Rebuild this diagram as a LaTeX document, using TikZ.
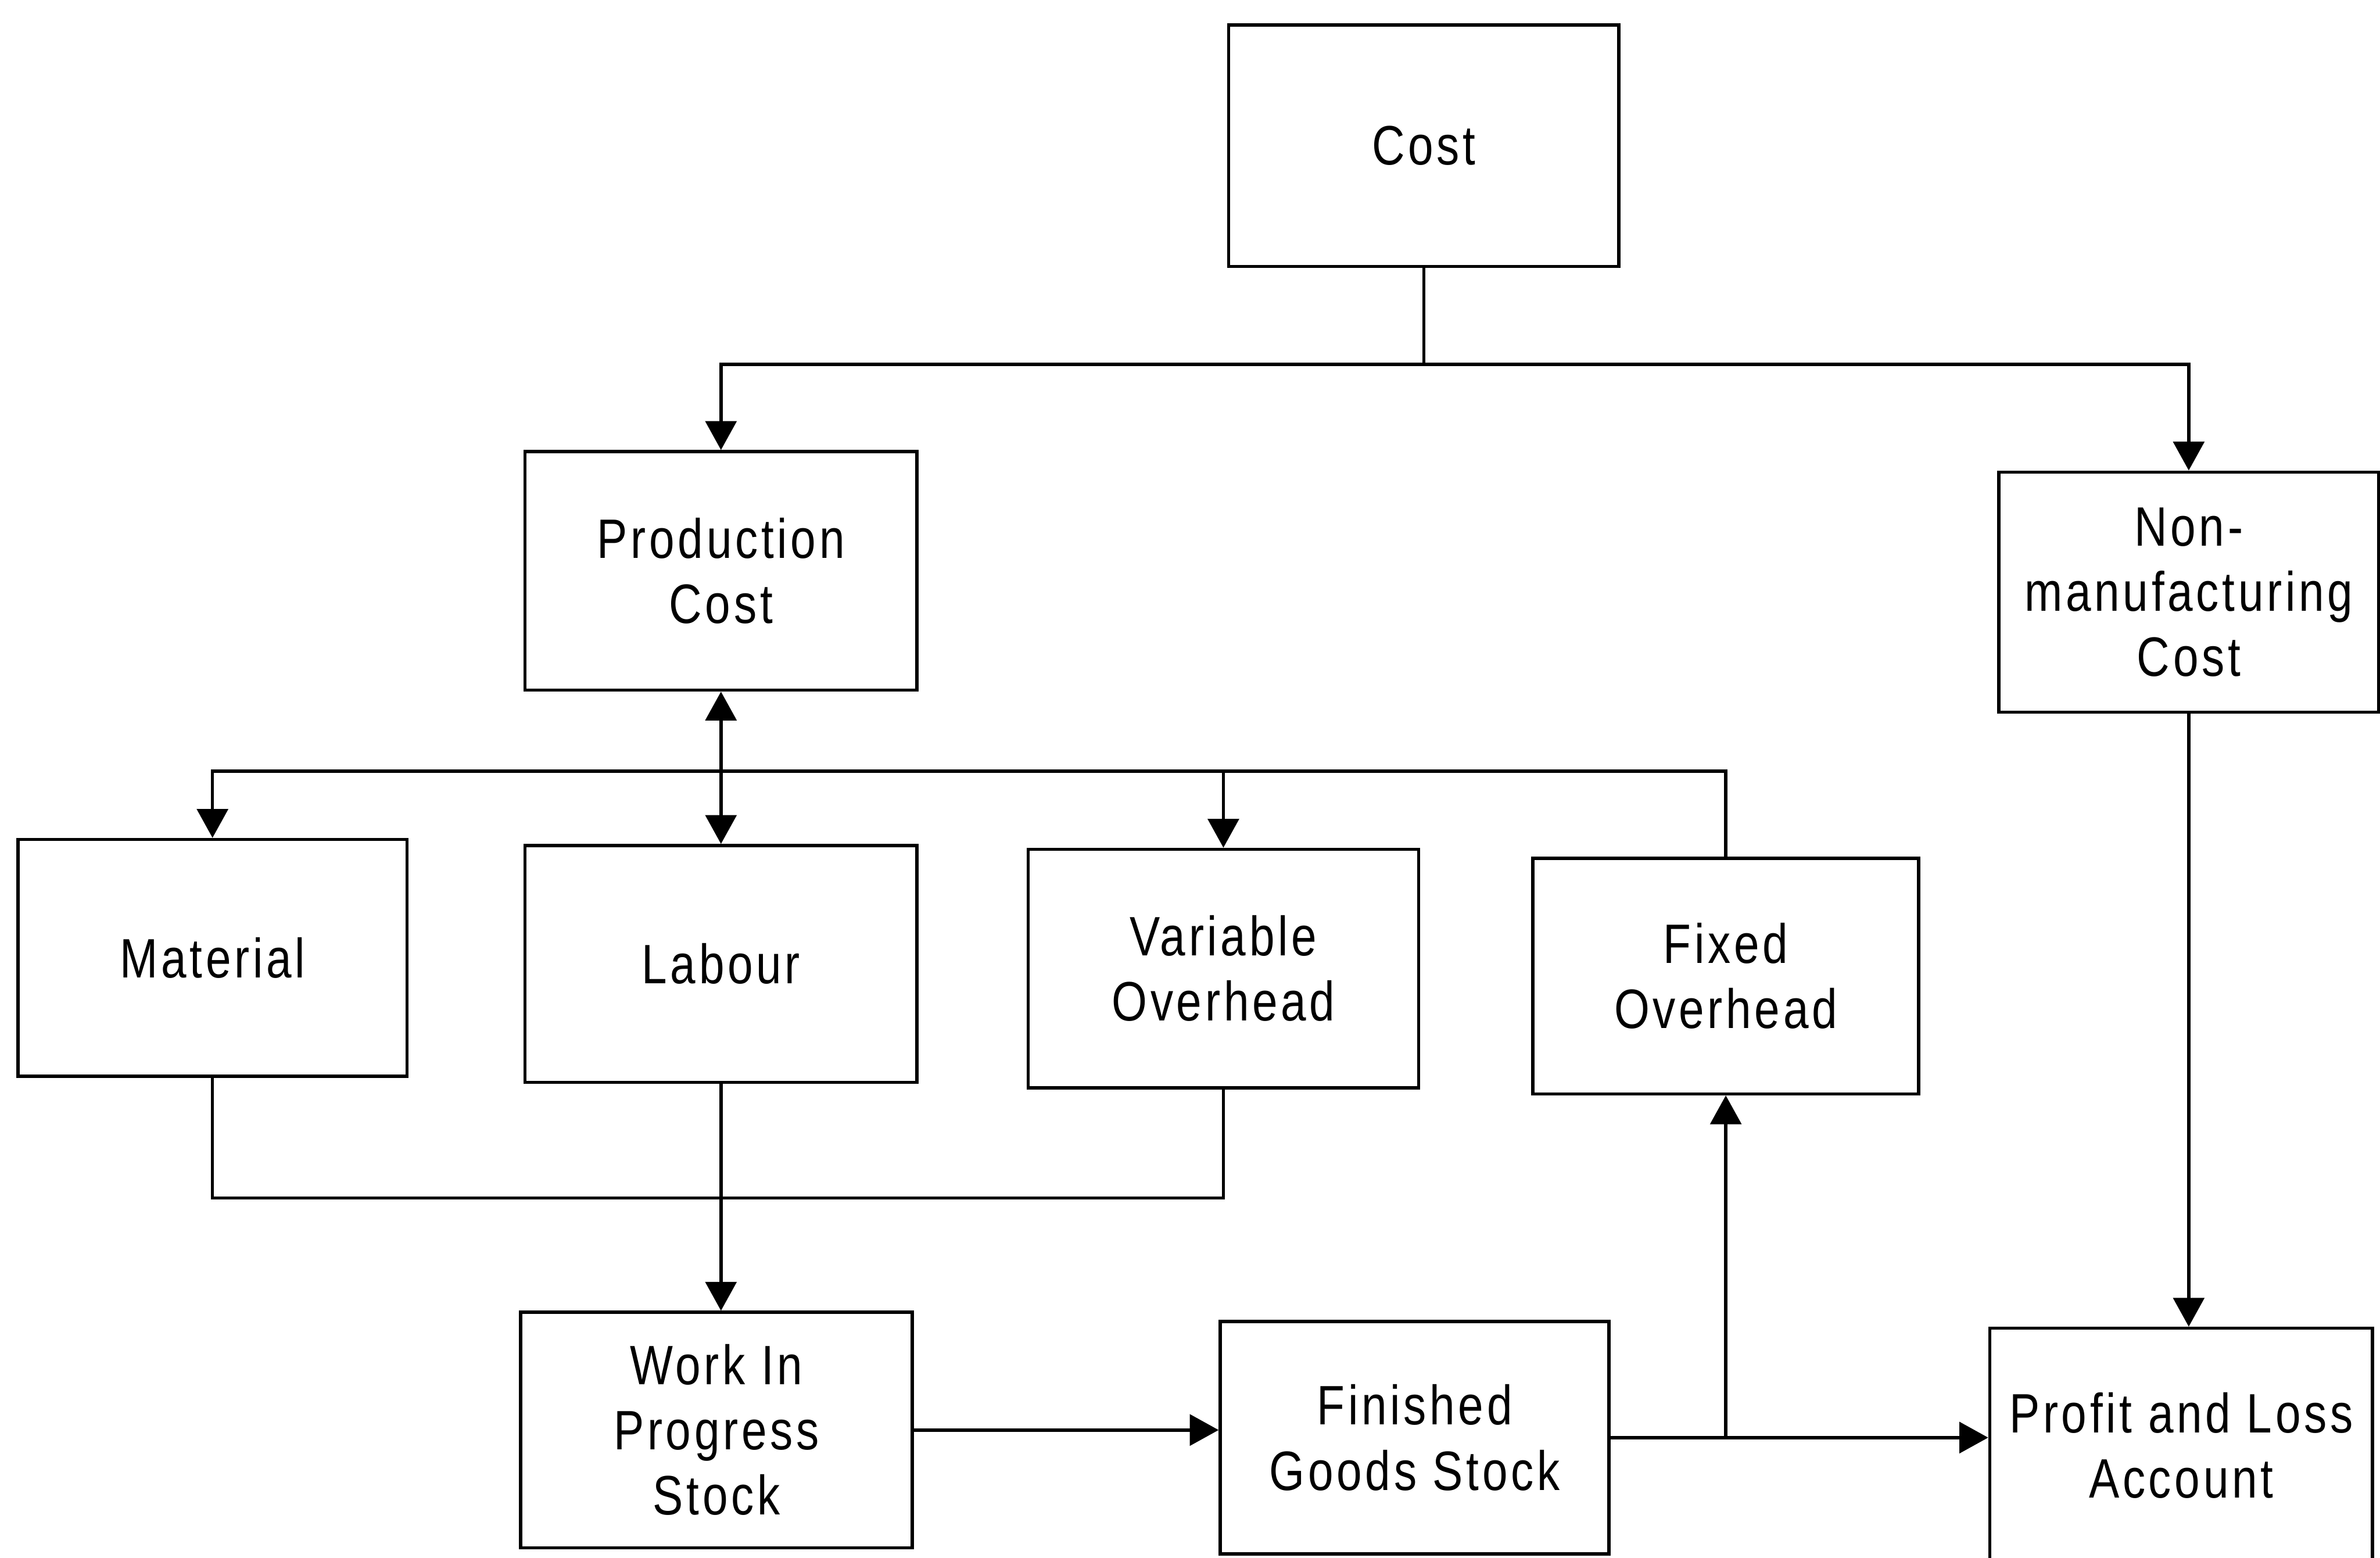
\documentclass[tikz,border=0pt]{standalone}
\usepackage{fontspec}
\setmainfont{Liberation Sans}[FakeStretch=0.82,LetterSpace=6]
\usetikzlibrary{arrows.meta}
\begin{document}
\begin{tikzpicture}[x=0.01cm, y=-0.01cm,
  box/.style={draw, line width=0.6pt, inner sep=0pt, align=center,
    font=\fontsize{10.4}{12.2}\selectfont},
  link/.style={line width=0.6pt},
  arr/.style={link, -{Triangle[width=5.8pt,length=5.4pt]}},
  biarr/.style={link, {Triangle[width=5.8pt,length=5.4pt]}-{Triangle[width=5.8pt,length=5.4pt]}}]
\useasboundingbox (0,0) rectangle (1568,1026);
\clip (0,0) rectangle (1568,1026);

% cost categories
\node[box, minimum width=2.57cm, minimum height=1.59cm] (cost)   at (938,96)   {Cost};
\node[box, minimum width=2.58cm, minimum height=1.57cm] (prod)   at (475,376)  {Production\\Cost};
\node[box, minimum width=2.50cm, minimum height=1.58cm] (nonman) at (1442,390) {Non-\\manufacturing\\Cost};

% elements of production cost
\node[box, minimum width=2.56cm, minimum height=1.56cm] (mat) at (140,631)  {Material};
\node[box, minimum width=2.58cm, minimum height=1.56cm] (lab) at (475,635)  {Labour};
\node[box, minimum width=2.57cm, minimum height=1.57cm] (var) at (806,638)  {Variable\\Overhead};
\node[box, minimum width=2.54cm, minimum height=1.55cm] (fix) at (1137,643) {Fixed\\Overhead};

% stocks and accounts
\node[box, minimum width=2.58cm, minimum height=1.55cm] (wip) at (472,942)  {Work In\\Progress\\Stock};
\node[box, minimum width=2.56cm, minimum height=1.53cm] (fgs) at (932,947)  {Finished\\Goods Stock};
\node[box, minimum width=2.52cm, minimum height=1.54cm] (pl)  at (1437,952) {Profit and Loss\\Account};

% split of total cost
\draw[link] (cost.south) -- (938,240) coordinate (j1);
\draw[arr] (j1) -| (prod.north);
\draw[arr] (j1) -| (nonman.north);

% production cost bus
\coordinate (j2) at (475,508);
\draw[biarr] (prod.south) -- (lab.north);
\draw[arr] (j2) -| (mat.north);
\draw[arr] (j2) -| (var.north);
\draw[link] (j2) -| (fix.north);

% material and variable overhead joined below
\draw[link] (mat.south) -- ++(0,79) -| (var.south);

% flow into stocks
\draw[arr] (lab.south) -- (lab.south |- wip.north);
\draw[arr] (wip.east) -- (wip.east -| fgs.west);
\draw[arr] (fgs.east) -- (fgs.east -| pl.west);
\coordinate (j3) at (fix.south |- fgs.east);
\draw[arr] (j3) -- (fix.south);

% non-manufacturing cost to profit and loss
\draw[arr] (nonman.south) -- (nonman.south |- pl.north);
\end{tikzpicture}
\end{document}
